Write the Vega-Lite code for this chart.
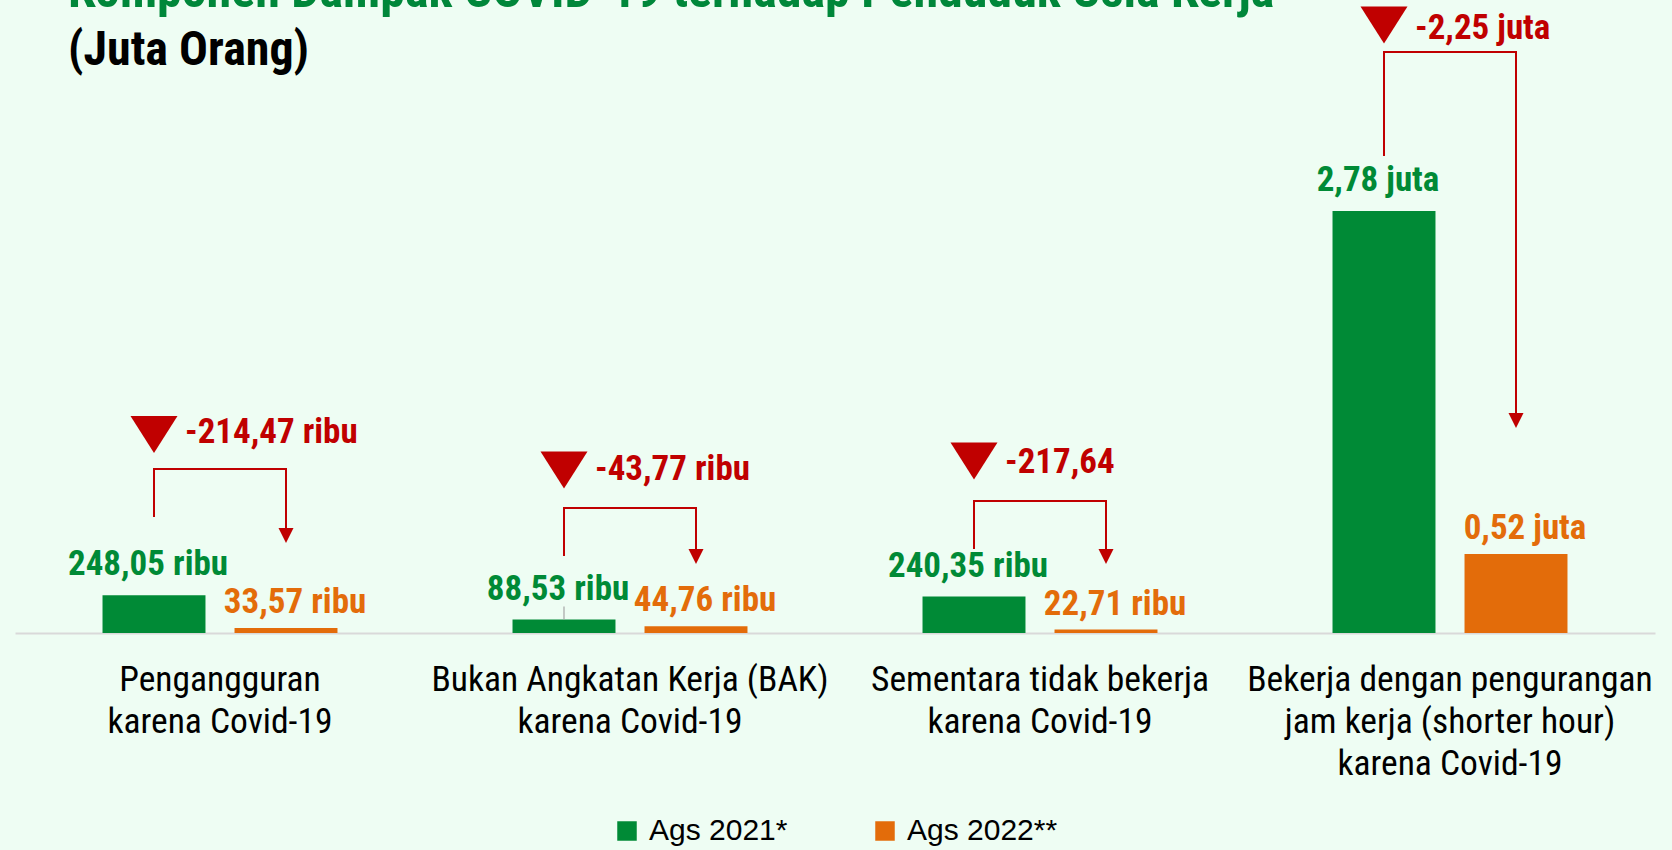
{
  "$schema": "https://vega.github.io/schema/vega-lite/v6.json",
  "width": 1640,
  "height": 633,
  "autosize": {"type": "none"},
  "padding": {"left": 15, "top": 0, "right": 17, "bottom": 217},
  "background": "#eefdf3",
  "title": {
    "text": "Komponen Dampak COVID-19 terhadap Penduduk Usia Kerja",
    "subtitle": "(Juta Orang)",
    "anchor": "start",
    "frame": "group",
    "offset": 0,
    "dx": 53,
    "dy": 75,
    "font": "Roboto Condensed, DejaVu Sans Condensed, sans-serif",
    "fontSize": 50,
    "fontWeight": "bold",
    "color": "#00873a",
    "subtitleFont": "Roboto Condensed, DejaVu Sans Condensed, sans-serif",
    "subtitleFontSize": 48,
    "subtitleFontWeight": "bold",
    "subtitleColor": "#000000",
    "subtitlePadding": 10
  },
  "config": {"view": {"stroke": null}, "legend": {"layout": {"bottom": {"anchor": "middle"}}}},
  "datasets": {
    "nilai": [
      {"kategori": "Pengangguran karena Covid-19", "periode": "Ags 2021*", "juta": 0.24805, "label": "248,05 ribu"},
      {"kategori": "Pengangguran karena Covid-19", "periode": "Ags 2022**", "juta": 0.03357, "label": "33,57 ribu"},
      {"kategori": "Bukan Angkatan Kerja (BAK) karena Covid-19", "periode": "Ags 2021*", "juta": 0.08853, "label": "88,53 ribu"},
      {"kategori": "Bukan Angkatan Kerja (BAK) karena Covid-19", "periode": "Ags 2022**", "juta": 0.04476, "label": "44,76 ribu"},
      {"kategori": "Sementara tidak bekerja karena Covid-19", "periode": "Ags 2021*", "juta": 0.24035, "label": "240,35 ribu"},
      {"kategori": "Sementara tidak bekerja karena Covid-19", "periode": "Ags 2022**", "juta": 0.02271, "label": "22,71 ribu"},
      {"kategori": "Bekerja dengan pengurangan jam kerja (shorter hour) karena Covid-19", "periode": "Ags 2021*", "juta": 2.78, "label": "2,78 juta"},
      {"kategori": "Bekerja dengan pengurangan jam kerja (shorter hour) karena Covid-19", "periode": "Ags 2022**", "juta": 0.52, "label": "0,52 juta"}
    ],
    "perubahan": [
      {"kategori": "Pengangguran karena Covid-19", "periode": "Ags 2021*", "teks": "-214,47 ribu", "y_segitiga": 1.308, "y_teks": 1.252},
      {"kategori": "Bukan Angkatan Kerja (BAK) karena Covid-19", "periode": "Ags 2021*", "teks": "-43,77 ribu", "y_segitiga": 1.074, "y_teks": 1.008},
      {"kategori": "Sementara tidak bekerja karena Covid-19", "periode": "Ags 2021*", "teks": "-217,64", "y_segitiga": 1.133, "y_teks": 1.054},
      {"kategori": "Bekerja dengan pengurangan jam kerja (shorter hour) karena Covid-19", "periode": "Ags 2021*", "teks": "-2,25 juta", "y_segitiga": 4.005, "y_teks": 3.913}
    ],
    "konektor": [
      {"kategori": "Pengangguran karena Covid-19", "periode": "Ags 2021*", "urutan": 1, "y": 0.764},
      {"kategori": "Pengangguran karena Covid-19", "periode": "Ags 2021*", "urutan": 2, "y": 1.08},
      {"kategori": "Pengangguran karena Covid-19", "periode": "Ags 2022**", "urutan": 3, "y": 1.08},
      {"kategori": "Pengangguran karena Covid-19", "periode": "Ags 2022**", "urutan": 4, "y": 0.642},
      {"kategori": "Bukan Angkatan Kerja (BAK) karena Covid-19", "periode": "Ags 2021*", "urutan": 1, "y": 0.507},
      {"kategori": "Bukan Angkatan Kerja (BAK) karena Covid-19", "periode": "Ags 2021*", "urutan": 2, "y": 0.823},
      {"kategori": "Bukan Angkatan Kerja (BAK) karena Covid-19", "periode": "Ags 2022**", "urutan": 3, "y": 0.823},
      {"kategori": "Bukan Angkatan Kerja (BAK) karena Covid-19", "periode": "Ags 2022**", "urutan": 4, "y": 0.504},
      {"kategori": "Sementara tidak bekerja karena Covid-19", "periode": "Ags 2021*", "urutan": 1, "y": 0.553},
      {"kategori": "Sementara tidak bekerja karena Covid-19", "periode": "Ags 2021*", "urutan": 2, "y": 0.87},
      {"kategori": "Sementara tidak bekerja karena Covid-19", "periode": "Ags 2022**", "urutan": 3, "y": 0.87},
      {"kategori": "Sementara tidak bekerja karena Covid-19", "periode": "Ags 2022**", "urutan": 4, "y": 0.504},
      {"kategori": "Bekerja dengan pengurangan jam kerja (shorter hour) karena Covid-19", "periode": "Ags 2021*", "urutan": 1, "y": 3.142},
      {"kategori": "Bekerja dengan pengurangan jam kerja (shorter hour) karena Covid-19", "periode": "Ags 2021*", "urutan": 2, "y": 3.827},
      {"kategori": "Bekerja dengan pengurangan jam kerja (shorter hour) karena Covid-19", "periode": "Ags 2022**", "urutan": 3, "y": 3.827},
      {"kategori": "Bekerja dengan pengurangan jam kerja (shorter hour) karena Covid-19", "periode": "Ags 2022**", "urutan": 4, "y": 1.4}
    ],
    "penunjuk": [
      {"kategori": "Bukan Angkatan Kerja (BAK) karena Covid-19", "periode": "Ags 2021*", "urutan": 1, "y": 0.0885},
      {"kategori": "Bukan Angkatan Kerja (BAK) karena Covid-19", "periode": "Ags 2021*", "urutan": 2, "y": 0.175}
    ]
  },
  "encoding": {
    "x": {
      "field": "kategori",
      "type": "nominal",
      "sort": [
        "Pengangguran karena Covid-19",
        "Bukan Angkatan Kerja (BAK) karena Covid-19",
        "Sementara tidak bekerja karena Covid-19",
        "Bekerja dengan pengurangan jam kerja (shorter hour) karena Covid-19"
      ],
      "scale": {"paddingInner": 0, "paddingOuter": 0},
      "axis": {
        "title": null,
        "labelAngle": 0,
        "ticks": false,
        "tickSize": 0,
        "domainColor": "#d9d9d9",
        "domainWidth": 2,
        "labelPadding": 29,
        "labelFont": "Roboto Condensed, DejaVu Sans Condensed, sans-serif",
        "labelFontSize": 35.5,
        "labelColor": "#000000",
        "labelLineHeight": 42,
        "labelBaseline": "top",
        "labelLimit": 0,
        "labelExpr": "datum.value == 'Pengangguran karena Covid-19' ? ['Pengangguran', 'karena Covid-19'] : datum.value == 'Bukan Angkatan Kerja (BAK) karena Covid-19' ? ['Bukan Angkatan Kerja (BAK)', 'karena Covid-19'] : datum.value == 'Sementara tidak bekerja karena Covid-19' ? ['Sementara tidak bekerja', 'karena Covid-19'] : ['Bekerja dengan pengurangan', 'jam kerja (shorter hour)', 'karena Covid-19']"
      }
    },
    "xOffset": {
      "field": "periode",
      "type": "nominal",
      "sort": ["Ags 2021*", "Ags 2022**"],
      "scale": {"paddingInner": 0.22, "paddingOuter": 0.663}
    }
  },
  "layer": [
    {
      "data": {"name": "nilai"},
      "mark": {"type": "bar"},
      "encoding": {
        "y": {"field": "juta", "type": "quantitative", "scale": {"domain": [0, 4.17], "nice": false, "zero": true}, "axis": null},
        "color": {
          "field": "periode",
          "type": "nominal",
          "scale": {"domain": ["Ags 2021*", "Ags 2022**"], "range": ["#008a36", "#e36c0a"]},
          "legend": {
            "title": null,
            "orient": "bottom",
            "direction": "horizontal",
            "symbolType": "square",
            "symbolSize": 380,
            "symbolStrokeWidth": 0,
            "labelFont": "Liberation Sans",
            "labelFontSize": 30,
            "labelColor": "#000000",
            "labelOffset": 7,
            "columnPadding": 82,
            "offset": 34
          }
        }
      }
    },
    {
      "data": {"name": "penunjuk"},
      "mark": {"type": "line", "color": "#a6a6a6", "strokeWidth": 1.2},
      "encoding": {
        "y": {"field": "y", "type": "quantitative"},
        "order": {"field": "urutan", "type": "quantitative"}
      }
    },
    {
      "data": {"name": "nilai"},
      "transform": [{"filter": "datum.periode == 'Ags 2021*'"}],
      "mark": {"type": "text", "baseline": "alphabetic", "align": "center", "dx": -6, "dy": -20, "font": "Roboto Condensed, DejaVu Sans Condensed, sans-serif", "fontSize": 35, "fontWeight": "bold"},
      "encoding": {
        "y": {"field": "juta", "type": "quantitative"},
        "text": {"field": "label"},
        "color": {"field": "periode", "type": "nominal"}
      }
    },
    {
      "data": {"name": "nilai"},
      "transform": [{"filter": "datum.periode == 'Ags 2022**'"}],
      "mark": {"type": "text", "baseline": "alphabetic", "align": "center", "dx": 9, "dy": -15, "font": "Roboto Condensed, DejaVu Sans Condensed, sans-serif", "fontSize": 35, "fontWeight": "bold"},
      "encoding": {
        "y": {"field": "juta", "type": "quantitative"},
        "text": {"field": "label"},
        "color": {"field": "periode", "type": "nominal"}
      }
    },
    {
      "data": {"name": "konektor"},
      "mark": {"type": "line", "color": "#c00000", "strokeWidth": 2},
      "encoding": {
        "y": {"field": "y", "type": "quantitative"},
        "detail": {"field": "kategori"},
        "order": {"field": "urutan", "type": "quantitative"}
      }
    },
    {
      "data": {"name": "konektor"},
      "transform": [{"filter": "datum.urutan == 4"}],
      "mark": {"type": "point", "shape": "M-1,-1L1,-1L0,1Z", "size": 225, "filled": true, "color": "#c00000", "opacity": 1, "strokeWidth": 0},
      "encoding": {
        "y": {"field": "y", "type": "quantitative"}
      }
    },
    {
      "data": {"name": "perubahan"},
      "mark": {"type": "point", "shape": "M-1,-0.787L1,-0.787L0,0.787Z", "size": 2209, "filled": true, "color": "#c00000", "opacity": 1, "strokeWidth": 0},
      "encoding": {
        "y": {"field": "y_segitiga", "type": "quantitative"}
      }
    },
    {
      "data": {"name": "perubahan"},
      "mark": {"type": "text", "align": "left", "baseline": "alphabetic", "dx": 31, "font": "Roboto Condensed, DejaVu Sans Condensed, sans-serif", "fontSize": 35, "fontWeight": "bold", "color": "#c00000"},
      "encoding": {
        "y": {"field": "y_teks", "type": "quantitative"},
        "text": {"field": "teks"}
      }
    }
  ]
}
